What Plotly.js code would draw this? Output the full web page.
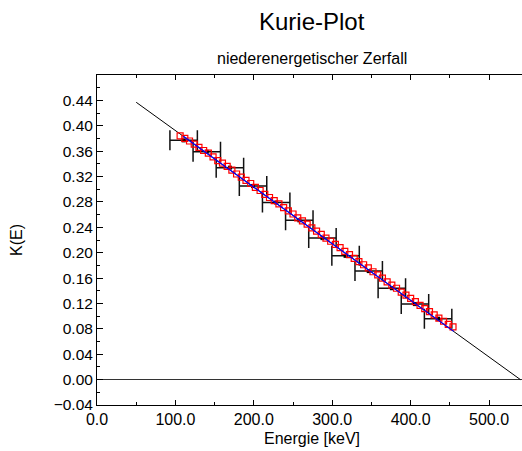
<!DOCTYPE html>
<html>
<head>
<meta charset="utf-8">
<script src="https://cdn.plot.ly/plotly-3.0.1.min.js"></script>
<style>html,body{margin:0;padding:0;background:#fff;overflow:hidden;}</style>
</head>
<body>
<div id="chart" style="width:522px;height:451px;"></div>
<script>
// Binned data with energy-width error bars (black)
var binE = [110.5, 140, 169.5, 199, 228.5, 258, 287.5, 317, 346.5, 376, 405.5, 435];
var binK = [0.377, 0.359, 0.334, 0.305, 0.279, 0.251, 0.223, 0.195, 0.171, 0.144, 0.119, 0.096];
var binHalfWidth = [17.5, 17.5, 17.5, 17.5, 17.5, 17.5, 17.5, 17.5, 17.5, 17.5, 17.5, 17.5];

// Channel data (red open squares)
var chanE = [106,112,118,124,130,136,142,148,154,160,166,172,178,184,190,196,202,208,214,220,
             226,232,238,244,250,256,262,268,274,280,286,292,298,304,310,316,322,328,334,340,
             346,352,358,364,370,376,382,388,394,400,406,412,418,424,430,436,442,448,454];
var chanK = [0.384,0.380,0.376,0.371,0.366,0.361,0.357,0.351,0.345,0.341,0.336,0.330,0.324,0.319,0.314,0.309,0.303,0.298,0.292,0.287,
             0.282,0.277,0.271,0.266,0.261,0.255,0.250,0.245,0.239,0.234,0.229,0.223,0.218,0.213,0.208,0.202,0.197,0.191,0.186,0.181,
             0.176,0.170,0.165,0.160,0.154,0.149,0.144,0.138,0.133,0.128,0.123,0.117,0.112,0.107,0.102,0.097,0.092,0.087,0.083];

// Fit lines
var extE = [50, 540];
var extK = [0.437, 0.0];
var fitE = [110, 455];
var fitK = [0.3834, 0.0760];

// Axis ticks
var xTicks = [0, 100, 200, 300, 400, 500];
var xTickText = ["0.0", "100.0", "200.0", "300.0", "400.0", "500.0"];
var yTicks = [-0.04, 0.00, 0.04, 0.08, 0.12, 0.16, 0.20, 0.24, 0.28, 0.32, 0.36, 0.40, 0.44];
var yTickText = ["\u22120.04","0.00","0.04","0.08","0.12","0.16","0.20","0.24","0.28","0.32","0.36","0.40","0.44"];

var FONT = "Liberation Sans, Arial, sans-serif";

var traces = [
  {x: extE, y: extK, mode: 'lines', line: {color: '#000', width: 1}, hoverinfo: 'skip'},
  {x: binE, y: binK, mode: 'markers',
   marker: {symbol: 'square', size: 4, color: '#000'},
   error_x: {type: 'data', array: binHalfWidth, symmetric: true, color: '#111', thickness: 1.5, width: 10}},
  {x: chanE, y: chanK, mode: 'markers',
   marker: {symbol: 'square-open', size: 6, color: '#ff0000', line: {width: 1.2}}},
  {x: fitE, y: fitK, mode: 'lines', line: {color: '#0000ff', width: 1.2}}
];

var layout = {
  width: 522, height: 451,
  margin: {l: 97, r: 0, t: 75, b: 46, pad: 0},
  paper_bgcolor: '#fff', plot_bgcolor: '#fff',
  showlegend: false,
  font: {family: FONT, color: '#000'},
  xaxis: {
    range: [0, 542], tickmode: 'array', tickvals: xTicks, ticktext: xTickText,
    ticks: 'inside', ticklen: 5, tickwidth: 1, tickcolor: '#000',
    minor: {dtick: 50, tick0: 0, ticks: 'inside', ticklen: 3, tickcolor: '#000'},
    showline: true, linecolor: '#000', linewidth: 1, mirror: 'ticks',
    showgrid: false, zeroline: false,
    tickfont: {family: FONT, size: 16, color: '#000'}
  },
  yaxis: {
    range: [-0.04, 0.48], tickmode: 'array', tickvals: yTicks, ticktext: yTickText,
    ticks: 'inside', ticklen: 6, tickwidth: 1, tickcolor: '#000',
    minor: {dtick: 0.02, tick0: 0, ticks: 'inside', ticklen: 3, tickcolor: '#000'},
    showline: true, linecolor: '#000', linewidth: 1,
    showgrid: false, zeroline: true, zerolinecolor: '#333', zerolinewidth: 1,
    tickfont: {family: FONT, size: 15.5, color: '#000'}
  },
  annotations: [
    {text: 'Kurie-Plot', xref: 'paper', yref: 'paper', x: 0.507, y: 1.1636, xanchor: 'center', yanchor: 'middle', showarrow: false, font: {family: FONT, size: 24, color: '#000'}},
    {text: 'niederenergetischer Zerfall', xref: 'paper', yref: 'paper', x: 0.507, y: 1.0485, xanchor: 'center', yanchor: 'middle', showarrow: false, font: {family: FONT, size: 16, color: '#000'}},
    {text: 'Energie [keV]', xref: 'paper', yref: 'paper', x: 0.507, y: -0.1, xanchor: 'center', yanchor: 'middle', showarrow: false, font: {family: FONT, size: 16, color: '#000'}},
    {text: 'K(E)', xref: 'paper', yref: 'paper', x: -0.1906, y: 0.5, xanchor: 'center', yanchor: 'middle', textangle: -90, showarrow: false, font: {family: FONT, size: 16, color: '#000'}}
  ]
};

Plotly.newPlot('chart', traces, layout, {displayModeBar: false, staticPlot: true});
</script>
</body>
</html>
